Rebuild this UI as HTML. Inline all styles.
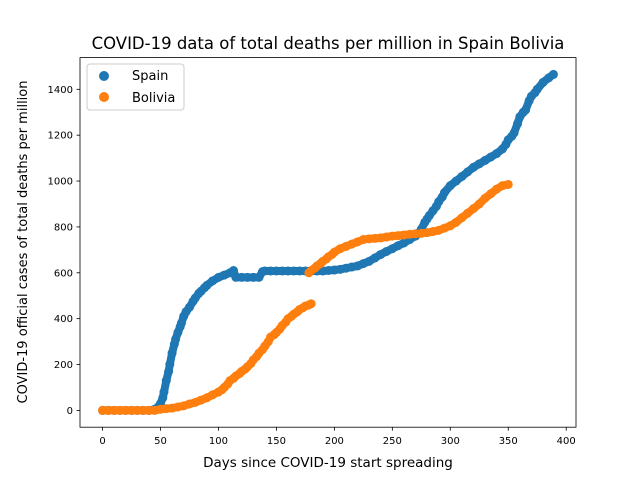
<!DOCTYPE html>
<html><head><meta charset="utf-8"><style>
body{margin:0;background:#fff}
svg text{font-family:"DejaVu Sans","Liberation Sans",sans-serif;fill:#000}
</style></head><body>
<svg id="chart" width="640" height="480" xmlns="http://www.w3.org/2000/svg">
<rect width="640" height="480" fill="#fff"/>
<g id="marks"></g>
<g id="axes"></g>
</svg>
<script>
const spainDays=[0,5,10,15,20,25,30,35,40,45,48,50,52,53,55,57,58,60,62,63,65,67,68,70,72,75,78,80,83,85,88,90,95,100,105,110,113,115,120,125,130,135,138,140,145,150,155,160,165,170,175,180,185,190,195,200,205,210,215,220,225,230,235,240,245,250,255,260,265,270,273,275,278,280,282,285,288,290,293,295,300,305,310,315,320,325,330,335,340,345,348,350,353,355,358,360,363,365,368,370,373,375,380,385,389];
const spainVals=[0,0,0,0,0,0,0,0,0,5,15,30,55,80,130,170,200,250,290,310,340,365,380,410,430,450,475,490,510,520,535,545,565,580,590,600,610,580,580,580,580,580,605,608,608,608,608,608,608,608,608,608,608,608,610,612,615,620,625,630,640,650,665,680,693,705,718,730,745,760,775,790,820,835,850,870,890,910,930,950,980,1000,1020,1040,1060,1075,1090,1105,1120,1140,1160,1180,1195,1210,1250,1280,1300,1310,1350,1370,1385,1400,1430,1450,1465];
const boliviaDays=[0,5,10,15,20,25,30,35,40,45,50,55,60,65,70,75,80,85,90,95,100,103,105,108,110,113,115,118,120,123,125,128,130,133,135,138,140,143,145,148,150,153,155,158,160,163,165,168,170,173,175,178,180,178,180,183,185,188,190,193,195,198,200,205,210,215,220,225,230,235,240,245,250,255,260,265,270,275,280,285,290,295,300,305,310,315,320,325,330,335,340,345,350];
const boliviaVals=[0,0,0,0,0,0,0,0,0,0,5,8,10,15,20,28,35,45,55,68,80,90,100,115,130,140,150,160,170,180,190,205,220,235,250,265,280,300,320,330,340,355,370,385,400,410,420,430,440,448,455,460,465,600,610,620,630,640,650,660,670,680,690,705,715,725,735,745,748,750,752,756,760,762,765,768,770,772,775,780,785,795,805,820,840,860,880,900,925,945,965,980,985];
const yTicks=[0,200,400,600,800,1000,1200,1400];
const xTicks=[0,50,100,150,200,250,300,350,400];
const L=80,R=576,T=57.6,B=427.2,xMin=-19.45,xMax=408.45,yMin=-73.25,yMax=1538.25;
const X=v=>L+(v-xMin)/(xMax-xMin)*(R-L);
const Y=v=>B-(v-yMin)/(yMax-yMin)*(B-T);
const NS="http://www.w3.org/2000/svg";
function mk(tag,attrs,parent,txt){const e=document.createElementNS(NS,tag);for(const k in attrs)e.setAttribute(k,attrs[k]);if(txt!==undefined)e.textContent=txt;parent.appendChild(e);return e;}
const marks=document.getElementById('marks'),axes=document.getElementById('axes');
function trail(days,vals,color,name){
  let segs=[[]];
  days.forEach((d,i)=>{if(i>0&&d<days[i-1])segs.push([]);segs[segs.length-1].push(X(d).toFixed(1)+','+Y(vals[i]).toFixed(1));});
  segs.forEach(s=>{const p=mk('polyline',{points:s.join(' '),fill:'none',stroke:color,'stroke-width':8,'stroke-linecap':'round','stroke-linejoin':'round'},marks);
  
  });
  days.forEach((d,i)=>{const c=mk('circle',{cx:X(d),cy:Y(vals[i]),r:4.5,fill:color},marks);
  
  });
}
trail(spainDays,spainVals,'#1f77b4','spain');
trail(boliviaDays,boliviaVals,'#ff7f0e','bolivia');
const frame=mk('rect',{x:L,y:T,width:R-L,height:B-T,fill:'none',stroke:'#000','stroke-width':0.8},axes);


xTicks.forEach(t=>{mk('line',{x1:X(t),x2:X(t),y1:B,y2:B+3.5,stroke:'#000','stroke-width':0.8},axes);
const tx=mk('text',{x:X(t),y:B+17,'text-anchor':'middle','font-size':'10px'},axes,t);

});
yTicks.forEach(t=>{mk('line',{x1:L-3.5,x2:L,y1:Y(t),y2:Y(t),stroke:'#000','stroke-width':0.8},axes);
const tx=mk('text',{x:L-7,y:Y(t)+3.5,'text-anchor':'end','font-size':'10px'},axes,t);

});
</script>
<svg style="position:absolute;left:0;top:0" width="640" height="480" xmlns="http://www.w3.org/2000/svg">
<text x="328" y="49" text-anchor="middle" font-size="16.5px">COVID-19 data of total deaths per million in Spain Bolivia</text>
<text x="328" y="467" text-anchor="middle" font-size="13.5px">Days since COVID-19 start spreading</text>
<text transform="translate(27,242) rotate(-90)" text-anchor="middle" font-size="13px">COVID-19 official cases of total deaths per million</text>
<g>
<rect x="87" y="64" width="97" height="46" rx="3" fill="#fff" fill-opacity="0.8" stroke="#ccc"/>
<circle cx="104" cy="76" r="5" fill="#1f77b4"/>
<text x="132" y="80" font-size="13px">Spain</text>
<circle cx="104" cy="97" r="5" fill="#ff7f0e"/>
<text x="132" y="102" font-size="13px">Bolivia</text>
</g>
</svg>
</body></html>
